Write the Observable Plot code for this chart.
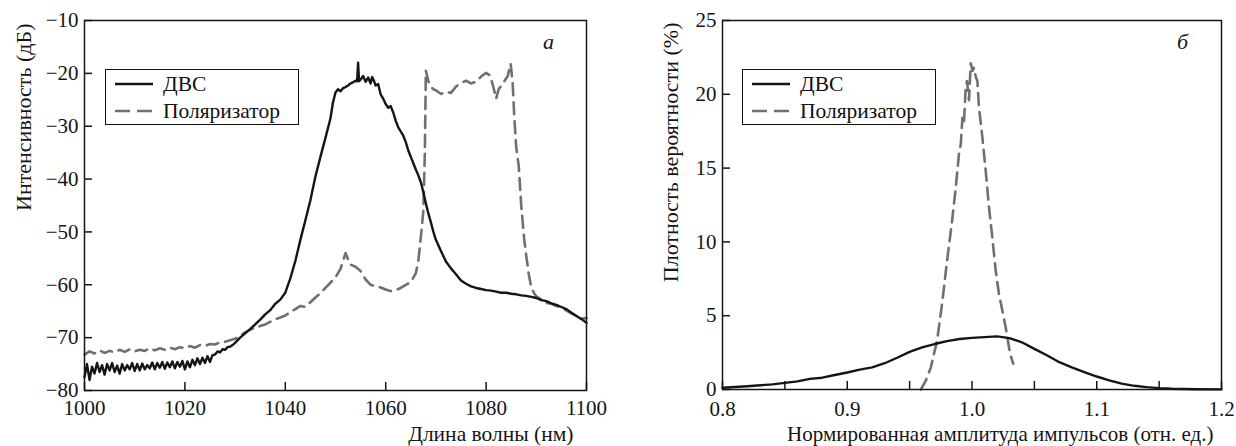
<!DOCTYPE html>
<html><head><meta charset="utf-8">
<script src="https://cdn.jsdelivr.net/npm/d3@7"></script>
<script src="https://cdn.jsdelivr.net/npm/@observablehq/plot@0.6"></script>
<style>
body{margin:0;background:#fff;}
#wrap{position:relative;width:1236px;height:446px;overflow:hidden;font-family:'Liberation Serif',serif;}
#wrap svg, #wrap svg text, #wrap svg g{font-family:'Liberation Serif',serif !important;}
.fig{position:absolute;top:0;}
.leg{position:absolute;border:1.5px solid #111;background:#fff;box-sizing:border-box;}
.leg .row{position:absolute;left:0;height:20px;display:flex;align-items:center;font-size:21.5px;color:#111;}
.leg svg{display:block;margin-left:9px;margin-right:10px;}
</style></head>
<body><div id="wrap"></div>
<script>
// ---------- Panel a: spectrum ----------
const seriesNames = ["ДВС", "Поляризатор"];
const wlDVS = [1000,1000.5,1001,1001.5,1002,1002.5,1003,1003.5,1004,1004.5,1005,1005.5,1006,1006.5,1007,1007.5,1008,1008.5,1009,1009.5,1010,1010.5,1011,1011.5,1012,1012.5,1013,1013.5,1014,1014.5,1015,1015.5,1016,1016.5,1017,1017.5,1018,1018.5,1019,1019.5,1020,1020.5,1021,1021.5,1022,1022.5,1023,1023.5,1024,1024.5,1025,1025.5,1026,1026.5,1027,1027.5,1028,1028.5,1029,1029.5,1030,1031,1032,1033,1034,1035,1036,1037,1038,1039,1040,1041,1042,1043,1044,1045,1046,1047,1048,1049,1049.5,1050,1050.5,1051,1051.5,1052,1052.5,1053,1053.5,1054,1054.3,1054.5,1054.7,1055,1055.5,1056,1056.5,1057,1057.3,1057.7,1058,1058.5,1059,1059.5,1060,1060.5,1061,1061.5,1062,1062.5,1063,1063.5,1064,1064.5,1065,1065.5,1066,1066.5,1067,1067.5,1068,1068.5,1069,1069.5,1070,1071,1072,1073,1074,1075,1076,1077,1078,1079,1080,1081,1082,1083,1084,1085,1086,1087,1088,1089,1090,1091,1092,1093,1094,1095,1096,1097,1098,1099,1100];
const intDVS = [-77.5,-75.0,-78.0,-75.5,-76.8,-74.8,-76.5,-75.2,-77.0,-75.0,-76.2,-74.8,-76.5,-75.3,-76.8,-75.0,-76.2,-75.2,-76.0,-74.8,-76.3,-75.0,-76.2,-74.9,-76.0,-75.2,-75.8,-74.7,-76.0,-74.8,-75.7,-74.6,-75.9,-74.7,-75.6,-74.5,-75.8,-74.6,-75.5,-74.4,-76.0,-74.5,-75.6,-74.2,-75.2,-73.9,-75.0,-73.8,-74.8,-73.5,-74.6,-73.3,-73.2,-72.6,-72.8,-72.2,-72.3,-71.8,-71.7,-71.4,-71.0,-70.0,-69.2,-68.4,-67.5,-66.6,-65.6,-64.8,-63.6,-62.8,-61.5,-58.8,-55.5,-51.5,-47.8,-44.0,-39.5,-35.8,-32.2,-28.5,-25.5,-23.6,-23.0,-23.4,-22.8,-22.6,-22.3,-21.9,-21.7,-21.4,-21.5,-18.0,-21.5,-21.2,-20.5,-21.6,-20.8,-21.9,-20.7,-21.5,-22.3,-22.0,-24.0,-24.8,-25.8,-26.5,-26.2,-27.4,-29.0,-30.2,-31.0,-31.8,-33.0,-34.6,-35.8,-37.0,-38.2,-39.3,-40.6,-42.5,-44.6,-46.5,-48.2,-50.0,-51.5,-53.6,-55.6,-56.9,-58.0,-59.2,-59.8,-60.3,-60.6,-60.8,-61.0,-61.1,-61.3,-61.5,-61.5,-61.7,-61.8,-62.0,-62.1,-62.3,-62.5,-62.9,-63.1,-63.5,-63.8,-64.2,-64.6,-65.3,-65.9,-66.5,-67.2];

const wlPol = [1000,1001,1002,1003,1004,1005,1006,1007,1008,1009,1010,1011,1012,1013,1014,1015,1016,1017,1018,1019,1020,1021,1022,1023,1024,1025,1026,1027,1028,1029,1030,1031,1032,1033,1034,1035,1036,1037,1038,1039,1040,1041,1042,1043,1044,1045,1046,1047,1048,1049,1050,1051,1051.5,1052,1052.5,1053,1054,1055,1056,1057,1058,1059,1060,1061,1062,1063,1064,1065,1066,1066.5,1067,1067.5,1067.8,1068,1068.5,1069,1069.5,1070,1071,1072,1073,1074,1075,1076,1077,1078,1079,1080,1080.8,1081.5,1082,1082.5,1083.5,1084.3,1084.9,1085.3,1085.6,1086,1086.5,1087,1087.6,1088,1088.5,1089,1089.5,1090,1091,1092,1093,1094,1095,1096,1097,1098,1099,1100];
const intPol = [-73.2,-72.6,-73.0,-72.4,-72.9,-72.5,-72.8,-72.3,-72.7,-72.2,-72.6,-72.3,-72.5,-72.0,-72.4,-72.0,-72.3,-71.9,-72.2,-71.8,-72.0,-71.6,-71.9,-71.4,-71.6,-71.2,-71.3,-70.9,-70.8,-70.5,-70.2,-69.7,-69.0,-68.5,-68.1,-67.8,-67.5,-67.0,-66.5,-66.2,-65.8,-65.2,-64.6,-64.0,-64.2,-63.3,-62.4,-61.6,-60.6,-59.6,-58.6,-57.0,-55.5,-54.0,-55.2,-56.2,-56.6,-57.4,-59.0,-60.0,-60.3,-60.5,-60.9,-61.2,-61.0,-60.6,-60.0,-59.5,-57.8,-55.5,-51.0,-46.0,-35.0,-19.5,-21.5,-22.5,-23.0,-23.2,-23.9,-23.5,-23.7,-22.5,-21.8,-21.4,-21.9,-21.6,-20.6,-19.9,-20.4,-22.8,-24.8,-23.0,-21.7,-20.5,-18.2,-22.0,-28.0,-34.0,-37.5,-45.0,-51.5,-54.5,-58.0,-60.5,-61.5,-62.2,-62.8,-63.4,-63.6,-64.0,-64.3,-64.9,-65.4,-65.9,-66.4,-66.3];

const xTicksA = [1000,1020,1040,1060,1080,1100];
const yTicksA = [-80,-70,-60,-50,-40,-30,-20,-10];

// ---------- Panel б: amplitude distribution ----------
const ampDVS = [0.80,0.82,0.84,0.85,0.86,0.87,0.88,0.89,0.90,0.91,0.92,0.93,0.94,0.95,0.96,0.97,0.98,0.99,1.00,1.01,1.02,1.03,1.04,1.05,1.06,1.07,1.08,1.09,1.10,1.11,1.12,1.13,1.14,1.15,1.16,1.18,1.20];
const probDVS = [0.12,0.22,0.35,0.45,0.55,0.72,0.80,0.98,1.15,1.35,1.50,1.78,2.15,2.55,2.85,3.08,3.28,3.42,3.50,3.55,3.60,3.48,3.20,2.75,2.32,1.85,1.50,1.18,0.88,0.62,0.40,0.25,0.16,0.09,0.05,0.02,0.01];
const ampPol = [0.959,0.963,0.967,0.972,0.976,0.980,0.984,0.987,0.9896,0.991,0.9923,0.9935,0.995,0.996,0.9976,0.999,1.0005,1.0016,1.003,1.0043,1.0056,1.0083,1.011,1.0136,1.0163,1.019,1.0216,1.0243,1.027,1.0296,1.031,1.033];
const probPol = [0,0.6,1.5,3.3,5.8,8.7,11.4,13.7,16.0,16.6,18.4,18.0,20.5,20.9,19.6,22.1,21.6,21.8,21.2,20.9,19.1,17.1,14.8,12.35,10.3,8.06,6.48,5.35,4.22,2.87,2.3,1.75];

const xTicksB = [0.8,0.85,0.9,0.95,1.0,1.05,1.1,1.15,1.2];
const xLabelsB = [0.8,0.9,1.0,1.1,1.2];
const yTicksB = [0,5,10,15,20,25];

const labels = {
  aX: "Длина волны (нм)", aY: "Интенсивность (дБ)", aTag: "а",
  bX: "Нормированная амплитуда импульсов (отн. ед.)", bY: "Плотность вероятности (%)", bTag: "б"
};

const BLACK = "#151515", GRAY = "#707070", DASH = "12,7";
const FONT = "Liberation Serif, serif";

const rowsDVS = wlDVS.map((x, i) => ({x, y: intDVS[i]}));
const rowsPol = wlPol.map((x, i) => ({x, y: intPol[i]}));
const rowsB1 = ampDVS.map((x, i) => ({x, y: probDVS[i]}));
const rowsB2 = ampPol.map((x, i) => ({x, y: probPol[i]}));

const style = {fontFamily: FONT, fontSize: "21px", background: "transparent", color: BLACK, overflow: "visible"};

const plotA = Plot.plot({
  width: 620, height: 446,
  marginLeft: 84, marginRight: 34, marginTop: 20, marginBottom: 56,
  style,
  x: {domain: [1000, 1100]},
  y: {domain: [-80, -10]},
  marks: [
    Plot.axisX({ticks: xTicksA, tickSize: -8, tickPadding: 18, tickFormat: d => String(d), label: null, strokeWidth: 1.5}),
    Plot.axisY({ticks: yTicksA, tickSize: -8, tickPadding: 14, label: null, strokeWidth: 1.5}),
    Plot.line(rowsPol, {x: "x", y: "y", stroke: GRAY, strokeWidth: 2.6, strokeDasharray: DASH, curve: "linear"}),
    Plot.line(rowsDVS, {x: "x", y: "y", stroke: BLACK, strokeWidth: 2.4}),
    Plot.frame({stroke: BLACK, strokeWidth: 1.5}),
    Plot.text([labels.aX], {frameAnchor: "bottom-right", textAnchor: "end", lineAnchor: "middle", dx: -13, dy: 43.5, fontSize: 21.5, fill: BLACK}),
    Plot.text([labels.aY], {frameAnchor: "top-left", textAnchor: "end", lineAnchor: "middle", rotate: -90, dx: -61, dy: 3, fontSize: 22, fill: BLACK}),
    Plot.text([labels.aTag], {frameAnchor: "top-right", textAnchor: "middle", lineAnchor: "middle", dx: -38, dy: 21, fontStyle: "italic", fontSize: 22, fill: BLACK})
  ]
});

const plotB = Plot.plot({
  width: 616, height: 446,
  marginLeft: 102, marginRight: 15, marginTop: 20, marginBottom: 57,
  style,
  x: {domain: [0.8, 1.2]},
  y: {domain: [0, 25]},
  marks: [
    Plot.axisX({ticks: xTicksB, tickSize: -8, tickPadding: 0, tickFormat: () => "", label: null, strokeWidth: 1.5}),
    Plot.axisX({ticks: xLabelsB, tickSize: 0, tickPadding: 12, tickFormat: d3.format(".1f"), label: null}),
    Plot.axisY({ticks: yTicksB, tickSize: -8, tickPadding: 14, label: null, strokeWidth: 1.5}),
    Plot.line(rowsB2, {x: "x", y: "y", stroke: GRAY, strokeWidth: 2.6, strokeDasharray: DASH}),
    Plot.line(rowsB1, {x: "x", y: "y", stroke: BLACK, strokeWidth: 2.4}),
    Plot.frame({stroke: BLACK, strokeWidth: 1.5}),
    Plot.text([labels.bX], {frameAnchor: "bottom-right", textAnchor: "end", lineAnchor: "middle", dx: -8, dy: 45, fill: BLACK}),
    Plot.text([labels.bY], {frameAnchor: "top-left", textAnchor: "end", lineAnchor: "middle", rotate: -90, dx: -52, dy: 2, fontSize: 22, fill: BLACK}),
    Plot.text([labels.bTag], {frameAnchor: "top-right", textAnchor: "middle", lineAnchor: "middle", dx: -39, dy: 21, fontStyle: "italic", fontSize: 22, fill: BLACK})
  ]
});

const wrap = document.getElementById("wrap");
function place(node, left) {
  const d = document.createElement("div");
  d.className = "fig"; d.style.left = left + "px";
  d.appendChild(node); wrap.appendChild(d);
}
place(plotA, 0);
place(plotB, 620);

function legend(left, top) {
  const box = document.createElement("div");
  box.className = "leg";
  Object.assign(box.style, {left: left + "px", top: top + "px", width: "194px", height: "56px"});
  const entries = [
    {name: seriesNames[0], stroke: BLACK, dash: null, y: 4},
    {name: seriesNames[1], stroke: GRAY, dash: "15,7", y: 31}
  ];
  for (const e of entries) {
    const row = document.createElement("div");
    row.className = "row"; row.style.top = e.y + "px";
    row.innerHTML = `<svg width="38" height="6"><line x1="0" x2="38" y1="3" y2="3" stroke="${e.stroke}" stroke-width="2.6" ${e.dash ? `stroke-dasharray="${e.dash}"` : ""}/></svg><span>${e.name}</span>`;
    box.appendChild(row);
  }
  wrap.appendChild(box);
}
legend(105, 69);
legend(742, 69);
</script></body></html>
